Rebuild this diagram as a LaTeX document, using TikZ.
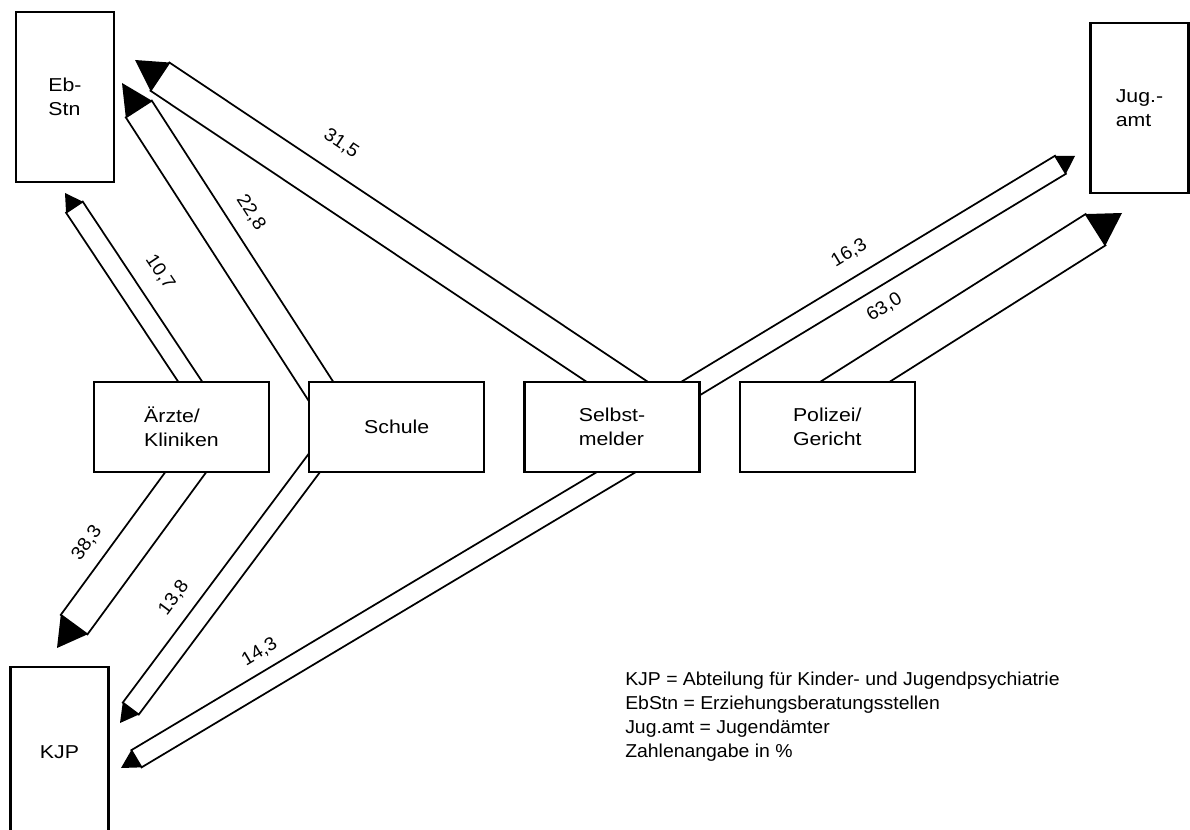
\documentclass[tikz,border=0pt]{standalone}
\usepackage{fontspec}
\setmainfont{Liberation Sans}[FakeStretch=1.04]
\newfontfamily\boxfont{Liberation Sans}[FakeStretch=1.14]
\usetikzlibrary{positioning,calc,backgrounds}

% hollow band with black tip: start, tip, half width, tip length, label pos, label gap, label
\newcommand{\flow}[7]{%
  \coordinate (fb) at ($(#2)!#4!(#1)$);
  \filldraw[band] ($(#1)!#3!90:(#2)$) -- ($(fb)!#3!90:(#2)$) -- ($(fb)!#3!-90:(#2)$) -- ($(#1)!#3!-90:(#2)$) -- cycle;
  \fill ($(fb)!#3!90:(#2)$) -- (#2) -- ($(fb)!#3!-90:(#2)$) -- cycle;
  \path (#1) -- node[pct,pos=#5,above=#6]{#7} (#2);
}

\begin{document}
\begin{tikzpicture}[x=0.75pt,y=-0.75pt,
    box/.style={draw,line width=1.7pt,fill=white,inner sep=0pt,align=left,
                font=\boxfont\fontsize{14}{18}\selectfont},
    widebox/.style={box,minimum width=131.25pt,minimum height=67.5pt},
    tallbox/.style={box,minimum width=73.5pt,minimum height=128pt},
    band/.style={line width=1.3pt,fill=white},
    pct/.style={sloped,inner sep=0pt,font=\fontsize{14}{17}\selectfont},
  ]
  \useasboundingbox (0,0) rectangle (1190,830);

  \node[tallbox] (ebstn) at (65,97) {Eb-\\Stn};
  \node[tallbox] (jugamt) at (1139.5,108) {Jug.-\\amt};
  \node[tallbox] (kjp) at (59.5,752) {KJP};

  \node[widebox] (aerzte) at (181.5,427) {Ärzte/\\Kliniken};
  \node[widebox,right=28.5pt of aerzte] (schule) {Schule};
  \node[widebox,right=28.5pt of schule] (selbst) {Selbst-\\melder};
  \node[widebox,right=28.5pt of selbst] (polizei) {Polizei/\\Gericht};

  \node[anchor=north west,inner sep=0pt,align=left,font=\fontsize{14}{18}\selectfont] (legend) at (625,672)
    {KJP = Abteilung für Kinder- und Jugendpsychiatrie\\
     EbStn = Erziehungsberatungsstellen\\
     Jug.amt = Jugendämter\\
     Zahlenangabe in \%};

  % band ends inside the boxes
  \coordinate (s1) at ($(aerzte)+(16.5,-33.5)$);
  \coordinate (s2) at ($(schule)+(-68,-23.6)$);
  \coordinate (s3) at ($(selbst)+(33,-26.6)$);
  \coordinate (s4) at ($(selbst)+(64.5,-30)$);
  \coordinate (s5) at ($(polizei)+(-3.5,-25.5)$);
  \coordinate (s6) at ($(aerzte)+(19,25)$);
  \coordinate (s7) at ($(schule)+(-73.5,24)$);
  \coordinate (s8) at ($(selbst)+(24.5,33)$);
  % tips
  \coordinate (t1) at (65,193);
  \coordinate (t2) at (122,83);
  \coordinate (t3) at (135,60);
  \coordinate (t4) at (1075,156);
  \coordinate (t5) at (1122,213);
  \coordinate (t6) at (57,648);
  \coordinate (t7) at (120,723);
  \coordinate (t8) at (121,768);

  \begin{scope}[on background layer]
    \flow{s1}{t1}{7.5pt}{12.75pt}{0.508}{20.6pt}{10,7}
    \flow{s2}{t2}{11.6pt}{23.25pt}{0.531}{22.5pt}{22,8}
    \flow{s3}{t3}{12.75pt}{22.5pt}{0.645}{28pt}{31,5}
    \flow{s4}{t4}{7.9pt}{12.75pt}{0.477}{19.4pt}{16,3}
    \flow{s5}{t5}{13.9pt}{23.5pt}{0.288}{29.5pt}{63,0}
    \flow{s6}{t6}{12.4pt}{21.75pt}{0.579}{22.4pt}{38,3}
    \flow{s7}{t7}{7.5pt}{13.5pt}{0.61}{17.8pt}{13,8}
    \flow{s8}{t8}{7.5pt}{13.5pt}{0.703}{15.3pt}{14,3}
  \end{scope}
\end{tikzpicture}
\end{document}
